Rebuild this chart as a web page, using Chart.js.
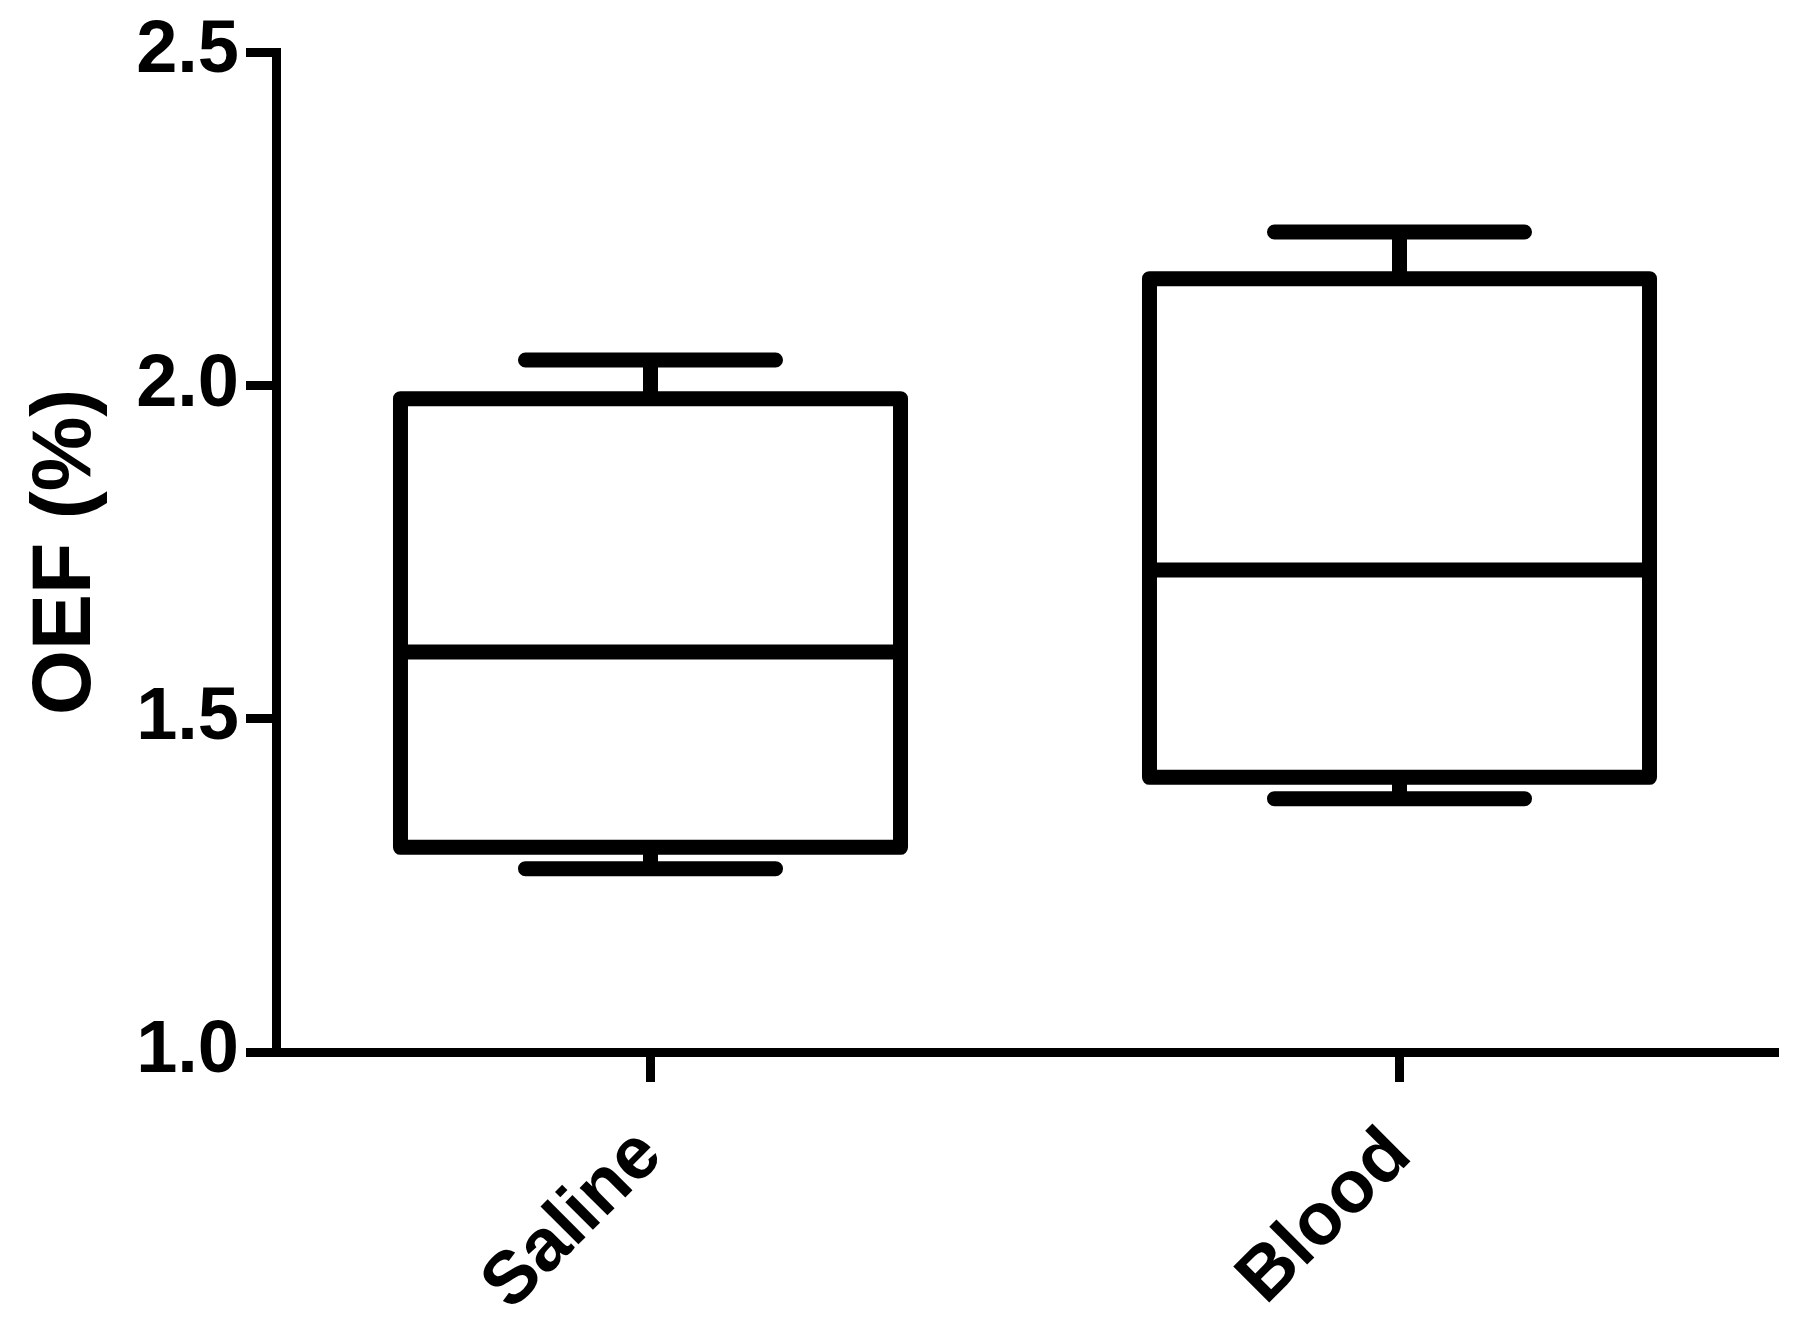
<!DOCTYPE html>
<html>
<head>
<meta charset="utf-8">
<script src="https://cdn.jsdelivr.net/npm/chart.js@4.4.1/dist/chart.umd.min.js"></script>
<style>
  html, body { margin: 0; padding: 0; background: #fff; }
  #wrap { width: 1800px; height: 1329px; }
</style>
</head>
<body>
<div id="wrap"><canvas id="myChart"></canvas></div>
<script>
const categories = ["Saline", "Blood"];
const whiskerLow = [1.275, 1.380];
const q1 = [1.307, 1.412];
const median = [1.600, 1.723];
const q3 = [1.980, 2.160];
const whiskerHigh = [2.038, 2.230];
const yTicks = [1.0, 1.5, 2.0, 2.5];

const canvas = document.getElementById("myChart");

// box, median and whiskers drawn on top of the (invisible) floating bars
const boxPlot = {
    id: "boxPlot",
    afterDatasetsDraw(chart) {
        const ctx = chart.ctx;
        const y = chart.scales.y;
        const meta = chart.getDatasetMeta(0);
        ctx.save();
        ctx.strokeStyle = "#000";
        ctx.lineWidth = 15;
        ctx.lineJoin = "round";
        meta.data.forEach((bar, i) => {
            const cx = bar.x;
            const half = bar.width / 2;
            const yLo = y.getPixelForValue(whiskerLow[i]);
            const yQ1 = y.getPixelForValue(q1[i]);
            const yMed = y.getPixelForValue(median[i]);
            const yQ3 = y.getPixelForValue(q3[i]);
            const yHi = y.getPixelForValue(whiskerHigh[i]);

            ctx.lineCap = "butt";
            ctx.beginPath();
            ctx.moveTo(cx, yQ3); ctx.lineTo(cx, yHi);
            ctx.moveTo(cx, yQ1); ctx.lineTo(cx, yLo);
            ctx.stroke();

            ctx.lineCap = "round";
            ctx.beginPath();
            ctx.moveTo(cx - half / 2, yHi); ctx.lineTo(cx + half / 2, yHi);
            ctx.moveTo(cx - half / 2, yLo); ctx.lineTo(cx + half / 2, yLo);
            ctx.stroke();

            ctx.strokeRect(cx - half, yQ3, half * 2, yQ1 - yQ3);

            ctx.lineCap = "butt";
            ctx.beginPath();
            ctx.moveTo(cx - half, yMed); ctx.lineTo(cx + half, yMed);
            ctx.stroke();
        });
        ctx.restore();
    }
};

const data = {
    labels: categories,
    datasets: [{
        label: "OEF",
        data: categories.map((c, i) => [q1[i], q3[i]]),
        backgroundColor: "rgba(0,0,0,0)",
        borderWidth: 0,
        barPercentage: 0.6676,
        categoryPercentage: 1
    }]
};

const config = {
    type: "bar",
    data: data,
    plugins: [boxPlot],
    options: {
        responsive: true,
        maintainAspectRatio: false,
        animation: false,
        layout: { padding: { left: 25, right: 26, top: 52, bottom: 0 } },
        plugins: {
            legend: { display: false },
            tooltip: { enabled: false }
        },
        scales: {
            x: {
                offset: true,
                afterFit: (s) => { s.height = 277; },
                border: { display: true, width: 9, color: "#000" },
                grid: {
                    offset: false,
                    drawOnChartArea: false,
                    drawTicks: true,
                    tickLength: 30,
                    lineWidth: 9,
                    color: "#000"
                },
                ticks: {
                    color: "#000",
                    minRotation: 45,
                    maxRotation: 45,
                    padding: 30,
                    font: { family: "Liberation Sans", weight: "bold", size: 74 }
                }
            },
            y: {
                min: 1.0,
                max: 2.5,
                afterFit: (s) => { s.width = 251; },
                afterBuildTicks: (s) => { s.ticks = yTicks.map(v => ({ value: v })); },
                border: { display: true, width: 9, color: "#000" },
                grid: {
                    drawOnChartArea: false,
                    drawTicks: true,
                    tickLength: 30,
                    lineWidth: 9,
                    color: "#000"
                },
                ticks: {
                    color: "#000",
                    padding: 7,
                    callback: (v) => Number(v).toFixed(1),
                    font: { family: "Liberation Sans", weight: "bold", size: 74, lineHeight: 1 }
                },
                title: {
                    display: true,
                    text: "OEF (%)",
                    color: "#000",
                    padding: 0,
                    font: { family: "Liberation Sans", weight: "bold", size: 84, lineHeight: 1 }
                }
            }
        }
    }
};

myChart = new Chart(canvas, config);
</script>
</body>
</html>
